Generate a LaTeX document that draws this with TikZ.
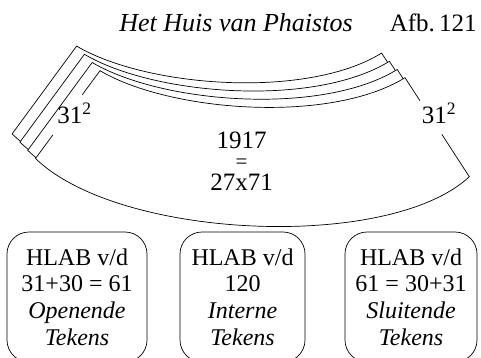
\documentclass[tikz,border=0pt]{standalone}
\usepackage{fontspec}
\setmainfont{Liberation Serif}
\begin{document}
\begin{tikzpicture}[x=1pt,y=-1pt,line width=0.7pt,
  sheet/.style={draw=black,fill=white},
  bigtxt/.style={font=\fontsize{25}{25}\selectfont,inner sep=0pt},
  titletxt/.style={font=\fontsize{26}{26}\selectfont,inner sep=0pt},
  hbox/.style={draw=black,rounded corners=22pt,align=center,inner sep=0pt,
    minimum height=130pt,font=\fontsize{24}{26.8}\selectfont}]
\useasboundingbox (0,0) rectangle (481,358);
\newcommand\sheetpath{(100,70.7) .. controls (170,112) and (330,124) .. (405,77.7) -- (469.3,176.7) .. controls (390,251) and (120,240) .. (35.5,158.5) -- cycle}
% back sheets
\foreach \k in {3,2,1}{
  \draw[sheet,shift={(-7.8*\k,-8.2*\k)}] \sheetpath;
}
% front sheet
\fill[white] \sheetpath;
\coordinate (TL) at (100,70.7);
\coordinate (TR) at (405,77.7);
\coordinate (BR) at (469.3,176.7);
\coordinate (BL) at (35.5,158.5);
\coordinate (R1) at (419.9,100.7);
\coordinate (R2) at (441.8,134.3);
\coordinate (L1) at (82.1,95);
\coordinate (L2) at (52.8,135);
\draw (L1) -- (TL) .. controls (170,112) and (330,124) .. (TR) -- (R1);
\draw (R2) -- (BR) .. controls (390,251) and (120,240) .. (BL) -- (L2);
% labels
\node[bigtxt,anchor=base] (lab1) at (74.5,123.3) {31\textsuperscript{2}};
\node[bigtxt,anchor=base] (lab2) at (439,123.3) {31\textsuperscript{2}};
\node[bigtxt,anchor=base] (n1) at (241.5,148.3) {1917};
\node[inner sep=0pt,font=\fontsize{21}{21}\selectfont] (n2) at (241.5,163.5) {=};
\node[bigtxt,anchor=base] (n3) at (241.5,190) {27x71};
% title
\node[titletxt,anchor=base west] (title) at (119,32) {\itshape Het Huis van Phaistos};
\node[titletxt,anchor=base east,font=\fontsize{25}{25}\selectfont] (afb) at (477,32) {Afb.\,121};
% boxes
\node[hbox,minimum width=140pt] (b1) at (77,297) {HLAB v/d\\31+30 = 61\\\textit{Openende}\\\textit{Tekens}};
\node[hbox,minimum width=125pt] (b2) at (242.5,297) {HLAB v/d\\120\\\textit{Interne}\\\textit{Tekens}};
\node[hbox,minimum width=132pt] (b3) at (411,297) {HLAB v/d\\61 = 30+31\\\textit{Sluitende}\\\textit{Tekens}};
\end{tikzpicture}
\end{document}
